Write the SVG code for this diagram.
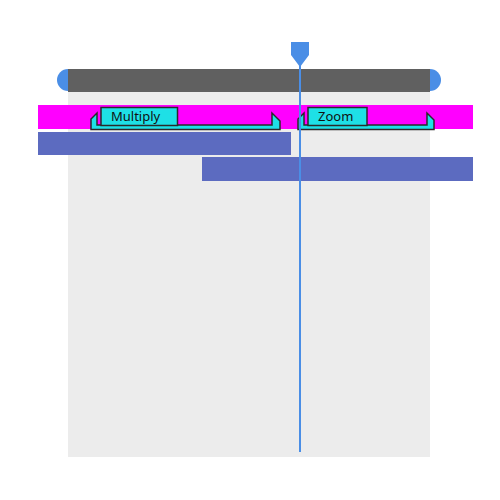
<svg xmlns="http://www.w3.org/2000/svg" width="500" height="500" viewBox="0 0 500 500">
<style>
.clip{fill:#1ee0e6;stroke:#2a2a2a;stroke-width:1.5;stroke-linejoin:miter}
.lbl{fill:#1ee0e6;stroke:#2a2a2a;stroke-width:1.5}
.txt{font-family:"Noto Sans","Open Sans",sans-serif;font-size:13px;fill:#111}
.bar{fill:#5c6bc0}
.ph{fill:#4a8ee6}
</style>
<rect width="500" height="500" fill="#fff"/>
<g id="background"><rect x="68" y="80" width="362" height="377" fill="#ececec"/></g>
<g id="ruler">
<circle cx="68" cy="80" r="11" class="ph"/>
<circle cx="430" cy="80" r="11" class="ph"/>
<rect x="68" y="69" width="362" height="23" fill="#606060"/>
</g>
<g id="track-magenta"><rect x="38" y="105" width="435" height="24" fill="#ff00ff"/></g>
<g id="bar1"><rect x="38" y="132" width="253" height="23" class="bar"/></g>
<g id="bar2"><rect x="202" y="157" width="271" height="24" class="bar"/></g>
<g id="clip-multiply">
<path class="clip" d="M91,129.5 V119 L97,113 V125 H272 V113 L280,121 V129.5 Z"/>
<rect class="lbl" x="101" y="107.5" width="76.5" height="18"/>
<text class="txt" x="111" y="121">Multiply</text>
</g>
<g id="clip-zoom">
<path class="clip" d="M298,129.5 V119 L304,113 V125 H427 V113 L434,120 V129.5 Z"/>
<rect class="lbl" x="308" y="107.5" width="59" height="18"/>
<text class="txt" x="318" y="121">Zoom</text>
</g>
<g id="playhead">
<line x1="300" y1="60" x2="300" y2="452" stroke="#4a8ee6" stroke-width="2"/>
<path class="ph" d="M291,42 H309 V55 L300,67 L291,55 Z"/>
</g>
</svg>
